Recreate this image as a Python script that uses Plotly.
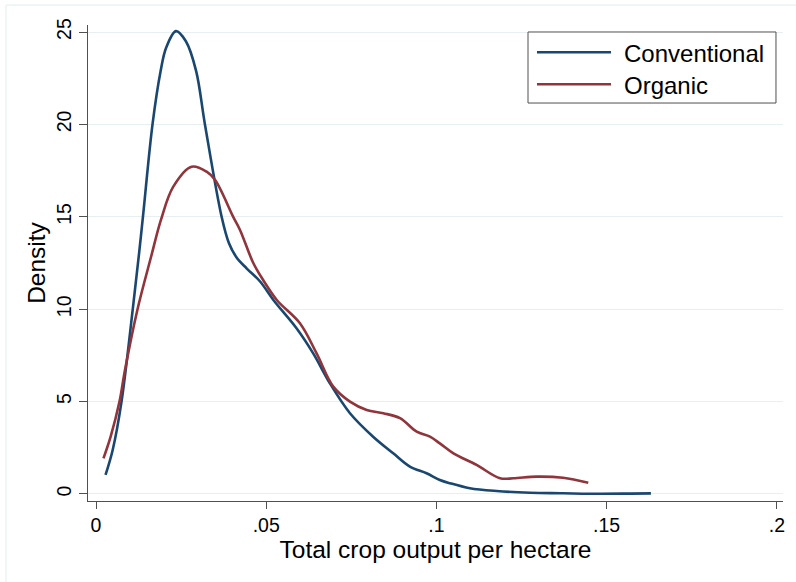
import plotly.graph_objects as go

# Kernel density estimates of total crop output per hectare
conv_x = [0.0028, 0.0049, 0.0075, 0.0108, 0.0127, 0.0139, 0.0166, 0.0190, 0.0206,
          0.0235, 0.0264, 0.0294, 0.0320, 0.0369, 0.0390, 0.0413,
          0.0443, 0.0482, 0.0521, 0.0589, 0.0638, 0.0687, 0.0746, 0.0814, 0.0873,
          0.0922, 0.0971, 0.1010, 0.1040, 0.1098, 0.1177, 0.1275, 0.1372, 0.1450,
          0.1570, 0.1630]
conv_y = [1.03, 2.38, 5.0, 10.0, 13.1, 15.2, 20.0, 22.9, 24.15,
          25.05, 24.5, 22.9, 20.0, 15.0, 13.6, 12.8,
          12.2, 11.5, 10.5, 8.97, 7.61, 5.99, 4.37, 3.10, 2.20,
          1.48, 1.12, 0.76, 0.58, 0.31, 0.16, 0.07, 0.04, 0.01,
          0.02, 0.03]

org_x = [0.0022, 0.0043, 0.0069, 0.0085, 0.0122, 0.0162, 0.0191, 0.0227, 0.0281,
         0.0325, 0.0350, 0.0403, 0.0423, 0.0462, 0.0491, 0.0531, 0.0599, 0.0648,
         0.0697, 0.0746, 0.0795, 0.0844, 0.0893, 0.0942, 0.0981, 0.1010, 0.1050,
         0.1118, 0.1187, 0.1226, 0.1294, 0.1372, 0.1446]
org_y = [1.93, 3.1, 5.0, 6.7, 10.0, 12.85, 14.85, 16.63, 17.71,
         17.44, 16.99, 15.0, 14.29, 12.5, 11.58, 10.5, 9.24, 7.61,
         5.81, 5.0, 4.55, 4.37, 4.10, 3.37, 3.1, 2.74, 2.2,
         1.57, 0.85, 0.85, 0.94, 0.88, 0.61]

series_names = ["Conventional", "Organic"]
series_colors = ["#1a476f", "#90353b"]

x_tickvals = [0, 0.05, 0.1, 0.15, 0.2]
x_ticktext = ["0", ".05", ".1", ".15", ".2"]
y_tickvals = [0, 5, 10, 15, 20, 25]

FONT = "Liberation Sans, Arial, sans-serif"
AXIS_COLOR = "#505050"
GRID_COLOR = "#e8eff1"

fig = go.Figure()
for name, xs, ys, col in zip(series_names, [conv_x, org_x], [conv_y, org_y], series_colors):
    fig.add_trace(go.Scatter(
        x=xs, y=ys, mode="lines", name=name,
        line=dict(color=col, width=2.6, shape="spline", smoothing=1.0),
        showlegend=False,
    ))

# Boxed legend in the top-right corner of the plot area
shapes = [
    dict(type="rect", xref="paper", yref="paper", x0=0.6331, x1=0.9899, y0=0.8361, y1=0.9853,
         line=dict(color=AXIS_COLOR, width=1), fillcolor="white", layer="above"),
    dict(type="line", xref="paper", yref="paper", x0=0.646, x1=0.7525, y0=0.9426, y1=0.9426,
         line=dict(color=series_colors[0], width=2.6), layer="above"),
    dict(type="line", xref="paper", yref="paper", x0=0.646, x1=0.7525, y0=0.8754, y1=0.8754,
         line=dict(color=series_colors[1], width=2.6), layer="above"),
    # faint outer frame of the graph region
    dict(type="line", xref="paper", yref="paper", x0=-0.118, x1=-0.118, y0=-0.3, y1=1.042,
         line=dict(color="#e3ecee", width=1)),
    dict(type="line", xref="paper", yref="paper", x0=-0.118, x1=1.1, y0=1.042, y1=1.042,
         line=dict(color="#e3ecee", width=1)),
]
annotations = [
    dict(xref="paper", yref="paper", x=0.7685, y=0.9405, text=series_names[0],
         showarrow=False, xanchor="left", yanchor="middle",
         font=dict(family=FONT, size=24, color="#000")),
    dict(xref="paper", yref="paper", x=0.7685, y=0.8733, text=series_names[1],
         showarrow=False, xanchor="left", yanchor="middle",
         font=dict(family=FONT, size=24, color="#000")),
]

fig.update_layout(
    width=796, height=582,
    margin=dict(l=88, r=13, t=25, b=81),
    paper_bgcolor="white", plot_bgcolor="white",
    font=dict(family=FONT, color="#000"),
    shapes=shapes, annotations=annotations,
    xaxis=dict(
        range=[-0.00235, 0.2018], tickvals=x_tickvals, ticktext=x_ticktext,
        showgrid=False, zeroline=False, showline=True, linecolor=AXIS_COLOR, linewidth=1,
        ticks="outside", ticklen=7, tickcolor=AXIS_COLOR, tickwidth=1,
        tickfont=dict(family=FONT, size=19.5, color="#000"),
        title=dict(text="Total crop output per hectare", font=dict(family=FONT, size=24.5, color="#000"),
                   standoff=2),
    ),
    yaxis=dict(
        range=[-0.38, 25.38], tickvals=y_tickvals,
        showgrid=True, gridcolor=GRID_COLOR, gridwidth=1, zeroline=False,
        showline=True, linecolor=AXIS_COLOR, linewidth=1,
        ticks="outside", ticklen=8, tickcolor=AXIS_COLOR, tickwidth=1, tickangle=-90,
        tickfont=dict(family=FONT, size=19.5, color="#000"),
        title=dict(text="Density", font=dict(family=FONT, size=24.5, color="#000"), standoff=0),
    ),
)

fig.write_html("out.html")
